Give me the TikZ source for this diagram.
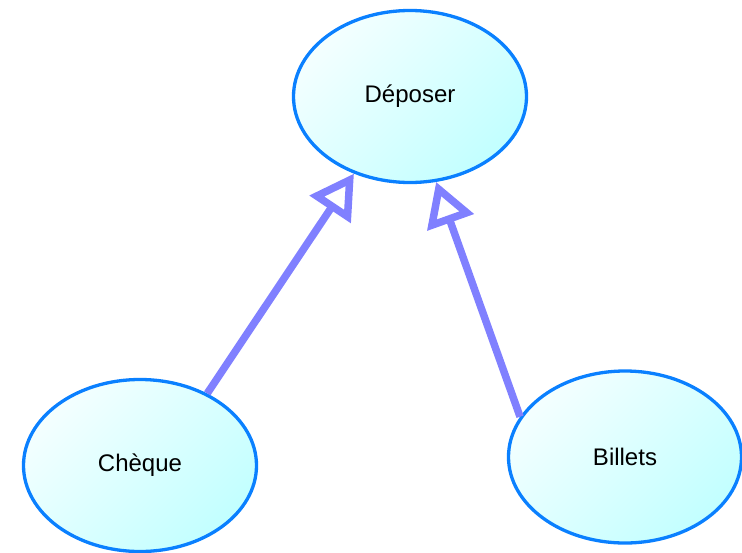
\documentclass[tikz,border=0pt]{standalone}
\usepackage{fontspec}
\setmainfont{Liberation Sans}
\usetikzlibrary{shapes.geometric,arrows.meta}
\definecolor{ucborder}{HTML}{0A80FF}
\definecolor{uclight}{HTML}{F4FFFF}
\definecolor{ucdark}{HTML}{C2FFFF}
\definecolor{edgecol}{HTML}{8080FF}
\tikzset{
  usecase/.style={ellipse, draw=ucborder, line width=3.3pt,
    minimum width=233pt, minimum height=172pt, inner sep=0pt,
    top color=uclight, bottom color=ucdark, shading angle=45,
    font=\fontsize{24}{28}\selectfont},
  genarrow/.style={draw=edgecol, line width=7.5pt,
    -{Triangle[open, fill=white, length=43pt, width=48pt]}}
}
\begin{document}
\begin{tikzpicture}[x=1pt,y=-1pt]
\useasboundingbox (0,0) rectangle (742,552);
\node[usecase] (dep) at (410,96.5) {Déposer};
\node[usecase] (chq) at (140,465.5) {Chèque};
\node[usecase] (bil) at (625,457) {Billets};
\draw[genarrow] (chq.47) -- (dep.-126.7);
\draw[genarrow] (bil.159.6) -- (dep.-73.7);
\end{tikzpicture}
\end{document}
